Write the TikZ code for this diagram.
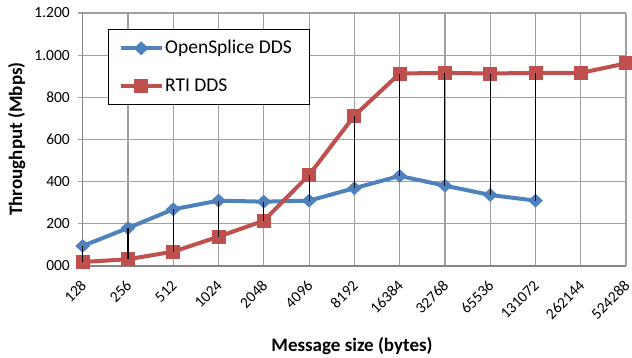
\documentclass[tikz,border=0pt]{standalone}
\usepackage{fontspec}
\setmainfont{Carlito}
\usepackage{tikz}
\usetikzlibrary{shapes,arrows,positioning,calc}

\definecolor{osblue}{HTML}{4F81BD}
\definecolor{rtired}{HTML}{C0504D}
\definecolor{gridgray}{HTML}{A0A0A0}
\definecolor{axisgray}{HTML}{868686}

\begin{document}
\begin{tikzpicture}[x=45.28pt, y=0.21083pt,
    grid/.style={draw=gridgray, line width=1.2pt},
    axis/.style={draw=axisgray, line width=1.4pt},
    ticklab/.style={font=\fontsize{15.5}{17}\selectfont, inner sep=0pt},
    xlab/.style={ticklab, anchor=east, rotate=45},
    ylab/.style={ticklab, anchor=east},
    osline/.style={draw=osblue, line width=4pt, line join=round},
    rtiline/.style={draw=rtired, line width=4pt, line join=round},
    osmark/.style={diamond, fill=osblue, inner sep=0pt, minimum width=15pt, minimum height=14pt},
    rtimark/.style={rectangle, fill=rtired, inner sep=0pt, minimum size=14pt},
    drop/.style={draw=black, line width=1.1pt},
    legtext/.style={anchor=west, inner sep=0pt, font=\fontsize{19.5}{21}\selectfont},
    title/.style={font=\fontsize{19}{21}\selectfont\bfseries}]

    \useasboundingbox (-82.7pt,-92pt) rectangle (549.3pt,266pt);

    % grid and axes
    \foreach \v in {200,400,...,1200}
        \draw[grid] (-0.11,\v) -- (12,\v);
    \foreach \i in {1,...,12}
        \draw[grid] (\i,0) -- (\i,1200);
    \draw[axis] (0,0) -- (0,1200);
    \draw[axis] (-0.11,0) -- (12,0);

    % axis labels
    \foreach \v/\t in {0/000,200/200,400/400,600/600,800/800,1000/1.000,1200/1.200}
        \node[ylab] (y\v) at (-0.28,\v) {\t};
    \foreach \i/\t in {0/128,1/256,2/512,3/1024,4/2048,5/4096,6/8192,7/16384,
                       8/32768,9/65536,10/131072,11/262144,12/524288}
        \node[xlab] (x\i) at ($(\i,0)+(1pt,-17pt)$) {\t};

    \node[title, rotate=90] (ytitle) at (-66pt,127pt) {Throughput (Mbps)};
    \node[title] (xtitle) at (269.3pt,-80pt) {Message size (bytes)};

    % data points
    \foreach \i/\v in {0/95,1/180,2/269,3/310,4/305,5/310,6/369,7/427,8/381,9/337,10/310}
        \coordinate (o\i) at (\i,\v);
    \foreach \i/\v in {0/19,1/32,2/68,3/139,4/215,5/432,6/713,7/913,8/916,9/913,
                       10/916,11/916,12/961}
        \coordinate (r\i) at (\i,\v);

    % series
    \draw[osline] (o0) \foreach \i in {1,...,10} { -- (o\i) };
    \foreach \i in {0,...,10}
        \node[osmark] (om\i) at (o\i) {};
    \draw[rtiline] (r0) \foreach \i in {1,...,12} { -- (r\i) };
    \foreach \i in {0,...,12}
        \node[rtimark] (rm\i) at (r\i) {};

    % high-low lines
    \foreach \i in {0,...,10}
        \draw[drop] (o\i) -- (r\i);

    % legend
    \node[draw=black, line width=1pt, fill=white, inner sep=0pt,
          minimum width=201pt, minimum height=75pt] (legend) at (126.1pt,198.5pt) {};
    \coordinate (la) at (38pt,217.7pt);
    \coordinate (lb) at (79pt,217.7pt);
    \draw[osline] (la) -- (lb);
    \node[osmark] (lom) at ($(la)!0.5!(lb)$) {};
    \node[legtext] (lot) at (82.3pt,217.7pt) {OpenSplice DDS};
    \coordinate (lc) at (38pt,180.3pt);
    \coordinate (ld) at (79pt,180.3pt);
    \draw[rtiline] (lc) -- (ld);
    \node[rtimark] (lrm) at ($(lc)!0.5!(ld)$) {};
    \node[legtext] (lrt) at (82.3pt,180.3pt) {RTI DDS};
\end{tikzpicture}
\end{document}
